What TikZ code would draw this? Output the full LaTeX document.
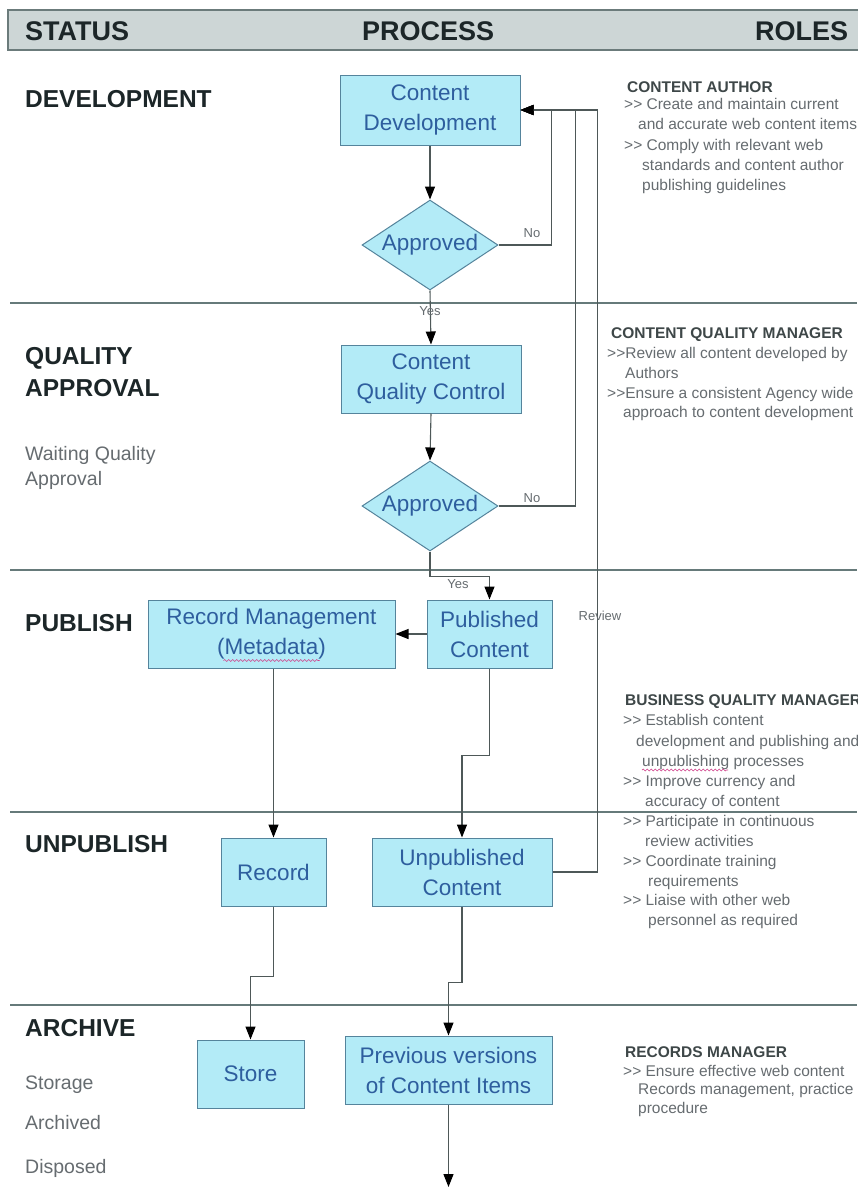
\documentclass[tikz,border=0pt]{standalone}
\usepackage{fontspec}
\setmainfont{Liberation Sans}
\usetikzlibrary{arrows.meta,shapes.geometric,decorations.pathmorphing,calc}
\definecolor{boxfill}{HTML}{B3EBF7}
\definecolor{boxline}{HTML}{55849C}
\definecolor{boxtext}{HTML}{2E5E9E}
\definecolor{conn}{HTML}{4E5858}
\definecolor{sect}{HTML}{667A7A}
\definecolor{headfill}{HTML}{CDD6D6}
\definecolor{headline}{HTML}{6B7B7B}
\definecolor{graytext}{HTML}{666C70}
\definecolor{darktext}{HTML}{1C2628}
\definecolor{wavy}{HTML}{D0408A}
\newcommand{\gtgt}{>{}>}
\begin{document}
\begin{tikzpicture}[x=1pt,y=-1pt,
  procbox/.style={draw=boxline, fill=boxfill, line width=1pt, text=boxtext,
    font=\fontsize{22.5}{30}\selectfont, align=center, inner sep=0pt},
  decision/.style={diamond, draw=boxline, fill=boxfill, line width=1pt, text=boxtext,
    font=\fontsize{22.5}{26}\selectfont, minimum width=136pt, minimum height=90pt,
    inner sep=0pt, aspect=1.5},
  arrowline/.style={draw=conn, line width=1.1pt, -{Triangle[length=13pt,width=10pt,color=black]}},
  plainline/.style={draw=conn, line width=1.1pt},
  sectline/.style={draw=sect, line width=1.1pt},
  headtext/.style={text=darktext, font=\fontsize{27}{30}\selectfont\bfseries, anchor=base west, inner sep=0pt},
  stagetext/.style={text=darktext, font=\fontsize{24.5}{30}\selectfont\bfseries, anchor=base west, inner sep=0pt},
  statustext/.style={text=graytext, font=\fontsize{19.5}{24}\selectfont, anchor=base west, inner sep=0pt},
  roletitle/.style={text=darktext!85, font=\fontsize{15.5}{20}\selectfont\bfseries, anchor=base west, inner sep=0pt},
  roletext/.style={text=graytext, font=\fontsize{15.5}{20}\selectfont, anchor=base west, inner sep=0pt},
  smalllabel/.style={text=graytext, font=\fontsize{13}{15}\selectfont, inner sep=0pt},
]
\useasboundingbox (0,0) rectangle (857,1189);
\fill[white] (0,0) rectangle (857,1189);

% header bar
\draw[fill=headfill, draw=headline, line width=1.2pt] (8,10) rectangle (870,50);
\node[headtext] (hstatus) at (25,40) {STATUS};
\node[headtext] (hprocess) at (362,40) {PROCESS};
\node[headtext] (hroles) at (755,40) {ROLES};

% section lines
\draw[sectline] (10,303) -- (857,303);
\draw[sectline] (10,570) -- (857,570);
\draw[sectline] (10,812) -- (857,812);
\draw[sectline] (10,1005) -- (857,1005);

% status column
\node[stagetext] (sdev) at (25,107) {DEVELOPMENT};
\node[stagetext] (squal1) at (25,364) {QUALITY};
\node[stagetext] (squal2) at (25,396) {APPROVAL};
\node[statustext] (swait1) at (25,460) {Waiting Quality};
\node[statustext] (swait2) at (25,485) {Approval};
\node[stagetext] (spub) at (25,631) {PUBLISH};
\node[stagetext] (sunp) at (25,852) {UNPUBLISH};
\node[stagetext] (sarch) at (25,1036) {ARCHIVE};
\node[statustext] (sstor) at (25,1089) {Storage};
\node[statustext] (sarc) at (25,1129) {Archived};
\node[statustext] (sdisp) at (25,1173) {Disposed};

% process nodes
\node[procbox, minimum width=180pt, minimum height=70pt] (cd) at (430,110) {Content\\Development};
\node[decision] (ap1) at (430,245) {Approved};
\node[procbox, minimum width=180pt, minimum height=68pt] (cqc) at (431,379) {Content\\Quality Control};
\node[decision] (ap2) at (430,506) {Approved};
\node[procbox, minimum width=125pt, minimum height=68pt] (pub) at (489.5,634) {Published\\Content};
\node[procbox, minimum width=247pt, minimum height=68pt] (rm) at (271.5,634) {Record Management\\(Metadata)};
\node[procbox, minimum width=105pt, minimum height=68pt] (rec) at (273.5,872) {Record};
\node[procbox, minimum width=180pt, minimum height=68pt] (unp) at (462,872) {Unpublished\\Content};
\node[procbox, minimum width=107pt, minimum height=68pt] (store) at (250.5,1074) {Store};
\node[procbox, minimum width=207pt, minimum height=68pt] (prev) at (448.5,1070) {Previous versions\\of Content Items};
\coordinate (endc) at (448.5,1187);

% wavy underline under Metadata
\draw[wavy, line width=0.6pt, decorate, decoration={snake, amplitude=0.9pt, segment length=4pt}]
  ([xshift=-48pt,yshift=8pt]rm.south) -- ([xshift=48pt,yshift=8pt]rm.south);

% connectors
\draw[arrowline] (cd.south) -- (ap1.north);
\draw[arrowline] (ap1.east) -- ++(53,0) |- (cd.east);
\draw[arrowline] (ap2.east) -- ++(77,0) |- (cd.east);
\draw[arrowline] (unp.east) -- ++(45,0) |- (cd.east);
\draw[arrowline] (ap1.south) -- (cqc.north);
\draw[arrowline] (cqc.south) -- (ap2.north);
\draw[arrowline] (ap2.south) -- ++(0,25) -| (pub.north);
\draw[arrowline] (pub.west) -- (rm.east);
\draw[arrowline] (rec.north |- rm.south) -- (rec.north);
\draw[arrowline] (pub.south) -- ++(0,87) -| (unp.north);
\draw[arrowline] (rec.south) -- ++(0,70) -| (store.north);
\draw[arrowline] (unp.south) -- ++(0,76) -| (prev.north);
\draw[arrowline] (prev.south) -- (endc);

% connector labels
\node[smalllabel] (no1) at (532,233) {No};
\node[smalllabel] (no2) at (532,498) {No};
\node[smalllabel] (yes1) at (430,311) {Yes};
\node[smalllabel] (yes2) at (458,584) {Yes};
\node[smalllabel] (review) at (600,616) {Review};

% roles: content author
\node[roletitle] (ra0) at (627,92) {CONTENT AUTHOR};
\node[roletext] (ra1) at (624,109) {\gtgt{} Create and maintain current};
\node[roletext] (ra2) at (638,129) {and accurate web content items};
\node[roletext] (ra3) at (624,150) {\gtgt{} Comply with relevant web};
\node[roletext] (ra4) at (642,170) {standards and content author};
\node[roletext] (ra5) at (642,190) {publishing guidelines};

% roles: content quality manager
\node[roletitle] (rq0) at (611,338) {CONTENT QUALITY MANAGER};
\node[roletext] (rq1) at (607,358) {\gtgt{}Review all content developed by};
\node[roletext] (rq2) at (625,378) {Authors};
\node[roletext] (rq3) at (607,398) {\gtgt{}Ensure a consistent Agency wide};
\node[roletext] (rq4) at (623,417) {approach to content development};

% roles: business quality manager
\node[roletitle] (rb0) at (625,705) {BUSINESS QUALITY MANAGER};
\node[roletext] (rb1) at (623,725) {\gtgt{} Establish content};
\node[roletext] (rb2) at (636,746) {development and publishing and};
\node[roletext] (rb3) at (642,766) {unpublishing processes};
\node[roletext] (rb4) at (623,786) {\gtgt{} Improve currency and};
\node[roletext] (rb5) at (645,806) {accuracy of content};
\node[roletext] (rb6) at (623,826) {\gtgt{} Participate in continuous};
\node[roletext] (rb7) at (645,846) {review activities};
\node[roletext] (rb8) at (623,866) {\gtgt{} Coordinate training};
\node[roletext] (rb9) at (648,886) {requirements};
\node[roletext] (rb10) at (623,905) {\gtgt{} Liaise with other web};
\node[roletext] (rb11) at (648,925) {personnel as required};
\draw[wavy, line width=0.6pt, decorate, decoration={snake, amplitude=0.9pt, segment length=4pt}]
  (642,770) -- (728,770);

% roles: records manager
\node[roletitle] (rr0) at (625,1057) {RECORDS MANAGER};
\node[roletext] (rr1) at (623,1076) {\gtgt{} Ensure effective web content};
\node[roletext] (rr2) at (638,1094) {Records management, practice};
\node[roletext] (rr3) at (638,1113) {procedure};
\end{tikzpicture}
\end{document}
